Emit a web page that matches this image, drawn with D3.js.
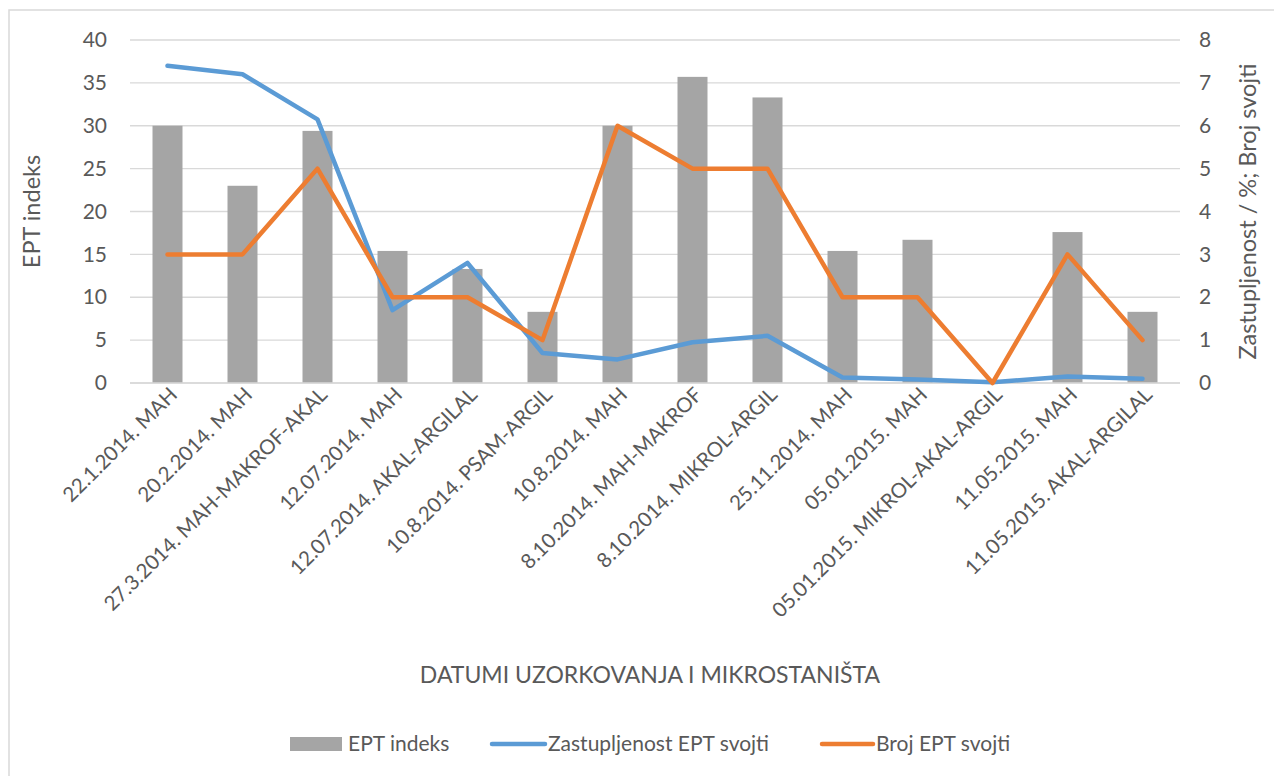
<!DOCTYPE html>
<html>
<head>
<meta charset="utf-8">
<script src="https://cdn.jsdelivr.net/npm/d3@7"></script>
<style>
  body { margin: 0; background: #fff; }
  svg text { font-family: Lato, "Open Sans", sans-serif; fill: #595959; }
</style>
</head>
<body>
<svg id="chart"></svg>
<script>
var categories = ["22.1.2014. MAH", "20.2.2014. MAH", "27.3.2014. MAH-MAKROF-AKAL", "12.07.2014. MAH",
  "12.07.2014. AKAL-ARGILAL", "10.8.2014. PSAM-ARGIL", "10.8.2014. MAH", "8.10.2014. MAH-MAKROF",
  "8.10.2014. MIKROL-ARGIL", "25.11.2014. MAH", "05.01.2015. MAH", "05.01.2015. MIKROL-AKAL-ARGIL",
  "11.05.2015. MAH", "11.05.2015. AKAL-ARGILAL"];
var eptIndeks = [30, 23, 29.4, 15.4, 13.3, 8.3, 30, 35.7, 33.3, 15.4, 16.7, 0, 17.6, 8.3];
var zastupljenost = [7.4, 7.2, 6.15, 1.7, 2.8, 0.7, 0.55, 0.95, 1.1, 0.13, 0.08, 0.02, 0.15, 0.1];
var brojSvojti = [3, 3, 5, 2, 2, 1, 6, 5, 5, 2, 2, 0, 3, 1];
var leftTicks = [0, 5, 10, 15, 20, 25, 30, 35, 40];
var rightTicks = [0, 1, 2, 3, 4, 5, 6, 7, 8];

var width = 1274, height = 776;
var pLeft = 130, pRight = 1180, pTop = 40, pBottom = 383;

var svg = d3.select("#chart").attr("width", width).attr("height", height);

// chart border
svg.append("rect").attr("x", 9).attr("y", 10).attr("width", 1300).attr("height", 800)
   .attr("fill", "none").attr("stroke", "#d9d9d9").attr("stroke-width", 1.5);

var x = d3.scaleBand().domain(categories).range([pLeft, pRight]).paddingInner(0.6).paddingOuter(0.3);
var yL = d3.scaleLinear().domain([0, 40]).range([pBottom, pTop]);
var yR = d3.scaleLinear().domain([0, 8]).range([pBottom, pTop]);
var xc = function(d, i) { return x(categories[i]) + x.bandwidth() / 2; };

// grid
svg.append("g").selectAll("line").data(leftTicks).join("line")
   .attr("x1", pLeft).attr("x2", pRight)
   .attr("y1", function(d) { return yL(d); }).attr("y2", function(d) { return yL(d); })
   .attr("stroke", "#d9d9d9").attr("stroke-width", 1.3);

// left axis
var axL = d3.axisLeft(yL).tickValues(leftTicks).tickSize(0).tickPadding(23);
var gL = svg.append("g").attr("transform", "translate(" + pLeft + ",0)").call(axL);
gL.select(".domain").remove();
gL.selectAll("text").attr("font-size", 21).style("font-family", "Lato, sans-serif").attr("fill", "#595959");

var axR = d3.axisRight(yR).tickValues(rightTicks).tickSize(0).tickPadding(19);
var gR = svg.append("g").attr("transform", "translate(" + pRight + ",0)").call(axR);
gR.select(".domain").remove();
gR.selectAll("text").attr("font-size", 21).style("font-family", "Lato, sans-serif").attr("fill", "#595959");

// bars
svg.append("g").selectAll("rect").data(eptIndeks).join("rect")
   .attr("x", function(d, i) { return x(categories[i]); })
   .attr("width", x.bandwidth())
   .attr("y", function(d) { return yL(d); })
   .attr("height", function(d) { return pBottom - yL(d); })
   .attr("fill", "#a5a5a5");

// x axis line
svg.append("line").attr("x1", pLeft).attr("x2", pRight).attr("y1", pBottom).attr("y2", pBottom)
   .attr("stroke", "#d9d9d9").attr("stroke-width", 1.5);

// lines
var line = function(scale) {
  return d3.line().x(xc).y(function(d) { return scale(d); });
};
svg.append("path").datum(zastupljenost).attr("d", line(yR))
   .attr("fill", "none").attr("stroke", "#5b9bd5").attr("stroke-width", 4.5)
   .attr("stroke-linejoin", "round").attr("stroke-linecap", "round");
svg.append("path").datum(brojSvojti).attr("d", line(yR))
   .attr("fill", "none").attr("stroke", "#ed7d31").attr("stroke-width", 4.5)
   .attr("stroke-linejoin", "round").attr("stroke-linecap", "round");

// category labels
svg.append("g").selectAll("text").data(categories).join("text")
   .attr("transform", function(d, i) { return "translate(" + (xc(d, i) + 11) + "," + (pBottom + 13) + ") rotate(-45)"; })
   .attr("text-anchor", "end").attr("font-size", 20.5).text(function(d) { return d; });

// axis titles
svg.append("text").attr("transform", "translate(40," + ((pTop + pBottom) / 2) + ") rotate(-90)")
   .attr("text-anchor", "middle").attr("font-size", 23.5).text("EPT indeks");
svg.append("text").attr("transform", "translate(1256," + ((pTop + pBottom) / 2) + ") rotate(-90)")
   .attr("text-anchor", "middle").attr("font-size", 23.5).text("Zastupljenost / %; Broj svojti");
svg.append("text").attr("x", (pLeft + pRight) / 2 - 5).attr("y", 683)
   .attr("text-anchor", "middle").attr("font-size", 23).text("DATUMI UZORKOVANJA I MIKROSTANIŠTA");

// legend
var legend = svg.append("g").attr("transform", "translate(0,744)");
legend.append("rect").attr("x", 290).attr("y", -7).attr("width", 52).attr("height", 14).attr("fill", "#a5a5a5");
legend.append("text").attr("x", 348).attr("y", 7).attr("font-size", 21).text("EPT indeks");
legend.append("line").attr("x1", 492).attr("x2", 545).attr("y1", 0).attr("y2", 0)
   .attr("stroke", "#5b9bd5").attr("stroke-width", 4.5).attr("stroke-linecap", "round");
legend.append("text").attr("x", 548).attr("y", 7).attr("font-size", 21).text("Zastupljenost EPT svojti");
legend.append("line").attr("x1", 822).attr("x2", 873).attr("y1", 0).attr("y2", 0)
   .attr("stroke", "#ed7d31").attr("stroke-width", 4.5).attr("stroke-linecap", "round");
legend.append("text").attr("x", 876).attr("y", 7).attr("font-size", 21).text("Broj EPT svojti");
</script>
</body>
</html>
